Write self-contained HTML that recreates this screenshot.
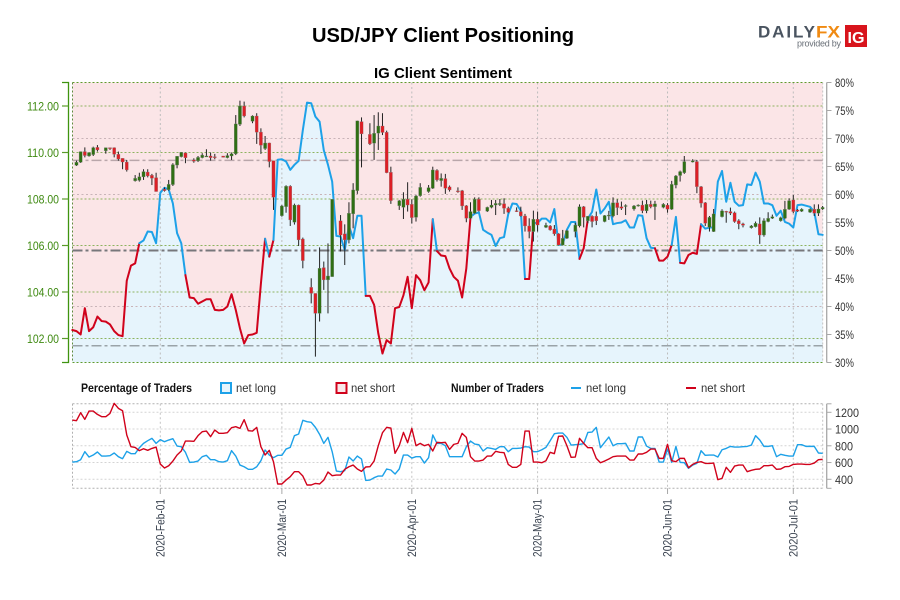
<!DOCTYPE html>
<html lang="en">
<head>
<meta charset="utf-8">
<title>USD/JPY Client Positioning</title>
<style>
html,body{margin:0;padding:0;background:#fff;width:900px;height:600px;overflow:hidden}
svg{display:block}
text{font-family:"Liberation Sans",sans-serif}
</style>
</head>
<body>
<svg id="chart" xmlns="http://www.w3.org/2000/svg" width="900" height="600" viewBox="0 0 900 600">
  <rect x="0" y="0" width="900" height="600" fill="#ffffff"/>
  <text x="443" y="42" text-anchor="middle" font-size="20" font-weight="bold" fill="#000" textLength="262" lengthAdjust="spacingAndGlyphs">USD/JPY Client Positioning</text>
  <text x="443" y="78" text-anchor="middle" font-size="15" font-weight="bold" fill="#000" textLength="138" lengthAdjust="spacingAndGlyphs">IG Client Sentiment</text>

  <g>
    <text x="758" y="37.5" font-size="17" font-weight="bold" fill="#4a5460" textLength="57" lengthAdjust="spacing">DAILY</text>
    <text x="816" y="37.5" font-size="17" font-weight="bold" fill="#f08a12" textLength="24" lengthAdjust="spacingAndGlyphs">FX</text>
    <text x="797" y="46.5" font-size="9" fill="#6a7078" textLength="44" lengthAdjust="spacing">provided by</text>
    <rect x="845" y="25" width="22" height="22" fill="#d8141c"/>
    <text x="856" y="43" text-anchor="middle" font-size="16" font-weight="bold" fill="#fff" textLength="17" lengthAdjust="spacingAndGlyphs">IG</text>
  </g>

  <g id="main-panel"></g>
  <g id="lower-panel"></g>

  <g font-size="12">
    <text x="81" y="392" font-weight="bold" fill="#111" textLength="111" lengthAdjust="spacingAndGlyphs">Percentage of Traders</text>
    <rect x="221" y="383" width="10" height="10" fill="#e6f4fc" stroke="#1da1e8" stroke-width="2"/>
    <text x="236" y="392" fill="#333" textLength="40" lengthAdjust="spacingAndGlyphs">net long</text>
    <rect x="336.5" y="383" width="10" height="10" fill="#f9e8ea" stroke="#d0021b" stroke-width="2"/>
    <text x="351" y="392" fill="#333" textLength="44" lengthAdjust="spacingAndGlyphs">net short</text>
    <text x="451" y="392" font-weight="bold" fill="#111" textLength="93" lengthAdjust="spacingAndGlyphs">Number of Traders</text>
    <line x1="571" y1="388" x2="581" y2="388" stroke="#1da1e8" stroke-width="2"/>
    <text x="586" y="392" fill="#333" textLength="40" lengthAdjust="spacingAndGlyphs">net long</text>
    <line x1="686" y1="388" x2="696" y2="388" stroke="#d0021b" stroke-width="2"/>
    <text x="701" y="392" fill="#333" textLength="44" lengthAdjust="spacingAndGlyphs">net short</text>
  </g>
</svg>

<script>
var priceTicks = [112, 110, 108, 106, 104, 102];
var priceTickLabels = ["112.00", "110.00", "108.00", "106.00", "104.00", "102.00"];
var percentTicks = [80, 75, 70, 65, 60, 55, 50, 45, 40, 35, 30];
var percentGrid = [70, 60, 40];
var referenceLevels = [66.1, 50, 33];
var traderTicks = [1200, 1000, 800, 600, 400];
var monthOffsets = [0, 29, 60, 90, 121, 151];
var monthLabels = ["2020-Feb-01", "2020-Mar-01", "2020-Apr-01", "2020-May-01", "2020-Jun-01", "2020-Jul-01"];

var candleDays = [-20,-19,-18,-17,-16,-15,-13,-12,-11,-10,-9,-8,-6,-5,-4,-3,-2,-1,1,2,3,4,5,6,8,9,10,11,12,13,15,16,17,18,19,20,22,23,24,25,26,27,29,30,31,32,33,34,36,37,38,39,40,41,43,44,45,46,47,48,50,51,52,53,54,55,57,58,59,60,61,62,64,65,66,67,68,69,71,72,73,74,75,76,78,79,80,81,82,83,85,86,87,88,89,90,92,93,94,95,96,97,99,100,101,102,103,104,106,107,108,109,110,111,113,114,115,116,117,118,120,121,122,123,124,125,127,128,129,130,131,132,134,135,136,137,138,139,141,142,143,144,145,146,148,149,150,151,152,153,155,156,157,158];
var candleOpen = [109.45,109.58,110.04,109.85,109.91,110.22,110.07,110.21,110.21,109.92,109.75,109.59,108.78,108.80,108.95,109.16,109.02,108.92,108.42,108.40,108.62,109.46,109.82,109.98,109.68,109.64,109.78,109.82,109.85,109.82,109.85,109.78,109.85,109.94,111.21,112.00,111.34,111.57,110.88,110.17,110.41,109.65,107.28,107.67,108.55,107.00,107.74,106.28,104.20,103.94,103.08,105.05,104.52,104.66,107.06,106.50,106.24,107.36,108.36,111.33,110.78,110.40,110.83,111.14,110.87,109.15,107.71,107.64,107.99,107.77,107.21,108.14,108.32,108.46,109.23,108.79,108.88,108.52,108.35,108.36,107.71,107.17,107.39,107.99,107.48,107.64,107.74,107.76,107.80,107.60,107.50,107.46,107.27,106.84,106.60,107.13,106.78,106.84,106.71,106.51,106.02,106.31,106.60,106.84,107.67,107.06,107.26,107.26,107.03,107.27,107.27,107.84,107.67,107.69,107.57,107.70,107.74,107.49,107.77,107.67,107.64,107.74,107.56,108.60,109.01,109.13,109.59,109.61,108.53,107.84,106.78,106.60,107.24,107.47,107.46,107.41,107.07,106.93,106.76,106.81,106.93,106.45,107.03,107.17,107.06,107.17,107.56,107.96,107.53,107.47,107.43,107.56,107.39,107.57];
var candleHigh = [109.65,110.04,110.22,110.00,110.25,110.32,110.21,110.21,110.22,110.04,109.75,109.68,109.03,109.13,109.28,109.28,109.08,109.13,108.50,108.82,109.54,109.85,110.02,110.00,109.75,109.85,109.97,110.14,110.00,109.94,109.85,109.97,110.00,111.61,112.23,112.19,111.60,111.69,111.04,110.71,110.42,109.65,107.74,108.59,108.59,107.80,107.76,106.34,104.59,103.94,105.92,105.31,106.09,107.99,107.31,106.91,107.86,108.68,111.37,111.51,111.26,111.61,111.73,111.69,110.94,109.39,107.96,108.29,108.72,107.99,108.17,108.68,108.60,109.39,109.28,109.10,109.08,108.58,108.50,108.39,107.74,107.86,108.07,108.07,107.67,107.96,107.96,108.00,108.03,107.67,107.64,107.67,107.36,107.17,107.50,107.46,106.98,106.88,106.88,106.53,106.67,106.67,106.98,107.77,107.70,107.27,107.30,107.46,107.31,107.49,108.07,107.99,107.89,107.77,107.74,107.77,107.93,107.96,107.93,107.92,107.82,107.82,108.78,109.03,109.22,109.85,109.71,109.68,108.56,107.87,107.27,107.57,107.56,107.49,107.63,107.46,107.13,106.98,106.88,107.03,107.21,107.17,107.43,107.33,107.24,107.92,108.03,108.17,107.57,107.60,107.59,107.77,107.77,107.70];
var candleLow = [109.42,109.55,109.79,109.82,109.85,110.04,109.95,110.11,109.79,109.65,109.28,109.18,108.75,108.75,108.82,108.93,108.60,108.32,108.32,108.36,108.56,109.32,109.79,109.54,109.56,109.59,109.75,109.82,109.65,109.71,109.79,109.75,109.68,109.89,111.14,111.51,111.26,110.37,109.94,110.11,109.36,107.53,107.24,107.41,106.84,106.90,105.98,105.02,103.51,101.22,102.73,104.09,103.08,104.66,105.74,105.16,106.09,106.74,108.22,109.36,110.32,109.68,110.11,110.75,109.11,107.79,107.53,107.14,107.46,106.95,107.03,108.10,108.27,108.43,108.75,108.53,108.22,108.32,108.27,107.53,107.00,107.14,107.36,107.46,107.44,107.60,107.31,107.70,107.36,107.39,107.44,107.24,106.60,106.31,106.17,106.60,106.75,106.64,106.42,106.00,106.00,106.28,106.35,106.78,106.78,106.96,106.78,106.88,107.00,107.10,107.21,107.31,107.53,107.31,107.50,107.67,107.39,107.39,107.60,107.10,107.60,107.41,107.53,108.46,108.75,109.08,109.57,108.25,107.63,106.84,106.60,106.58,107.21,106.98,107.31,106.98,106.70,106.78,106.73,106.78,106.07,106.38,107.00,107.14,107.03,107.13,107.53,107.39,107.44,107.44,107.40,107.27,107.27,107.53];
var candleClose = [109.58,110.04,109.87,110.00,110.21,110.11,110.21,110.17,109.92,109.72,109.59,109.25,108.89,108.96,109.18,108.99,108.89,108.32,108.36,108.63,109.48,109.84,110.01,109.77,109.62,109.79,109.89,109.85,109.78,109.79,109.79,109.87,109.95,111.23,112.00,111.57,111.57,110.87,110.31,110.41,109.61,108.07,107.70,108.55,107.10,107.74,106.24,105.35,103.94,103.08,105.02,104.52,104.69,107.99,106.45,106.24,107.39,108.39,111.36,110.80,110.37,110.83,111.14,110.86,109.13,107.93,107.93,107.99,107.74,107.20,108.13,108.50,108.49,109.25,108.82,108.89,108.46,108.39,108.32,107.70,107.17,107.46,107.99,107.50,107.64,107.74,107.81,107.81,107.60,107.43,107.47,107.27,106.84,106.60,107.13,106.88,106.87,106.67,106.50,106.02,106.31,106.64,106.88,107.67,107.21,107.26,107.03,107.06,107.29,107.31,107.84,107.63,107.60,107.72,107.70,107.74,107.50,107.77,107.67,107.79,107.77,107.56,108.63,108.99,109.18,109.61,109.65,108.53,107.82,106.96,107.21,107.36,107.49,107.44,107.39,107.03,106.93,106.87,106.84,106.96,106.45,107.07,107.17,107.24,107.20,107.56,107.93,107.46,107.47,107.56,107.56,107.39,107.57,107.64];

var seriesStartDay = -21;
var sentimentPercent = [35.8,35.6,35.0,39.7,35.6,36.3,38.2,37.4,37.3,36.8,35.6,34.9,34.7,44.6,47.3,47.7,51.3,51.8,53.4,53.3,51.3,60.3,61.2,60.9,58.4,53.1,51.3,45.6,41.6,41.5,40.5,40.9,41.3,41.3,39.4,39.3,39.4,40.0,42.2,39.4,36.1,33.4,34.9,35.0,35.3,44.1,52.1,48.9,51.9,66.2,66.3,65.9,64.4,65.3,66.0,71.5,76.4,76.3,73.9,73.0,67.9,65.3,62.3,52.6,52.5,50.1,54.4,52.2,56.2,56.2,41.9,41.9,40.3,35.2,31.6,34.0,33.4,39.7,39.9,42.0,45.3,39.7,45.6,44.7,42.9,44.3,55.6,49.9,49.1,49.0,46.8,45.3,44.6,41.6,46.8,56.0,56.6,56.8,53.7,53.2,52.8,50.8,52.2,52.4,56.5,58.4,58.3,57.1,44.9,44.9,54.9,54.9,55.7,55.7,55.0,57.4,51.0,51.1,53.7,55.1,55.1,48.5,50.4,55.7,56.9,60.9,56.6,57.5,58.7,54.7,54.9,55.0,55.4,54.1,54.1,56.3,56.2,52.2,50.5,50.4,48.2,48.2,48.9,51.0,56.0,47.8,47.7,49.2,49.6,49.4,54.7,53.9,54.1,54.1,62.3,64.2,58.7,62.1,58.7,58.0,58.1,61.8,61.7,63.9,62.3,58.4,58.4,58.1,56.2,57.1,55.1,54.8,54.1,58.1,58.2,58.0,57.8,56.9,52.9,52.8];
var netShortRanges = [[-21,-5],[6,25],[26,27],[49,65],[66,74],[87,89],[100,102],[118,122],[124,129]];

var tradersLong = [606,610,634,730,666,690,726,678,678,682,714,670,646,734,706,706,777,829,861,889,829,873,849,869,885,797,789,722,602,606,618,670,686,634,634,610,606,622,742,678,570,550,519,519,550,622,750,690,658,686,686,761,781,921,941,1104,1088,1080,1020,937,829,901,730,499,491,503,666,618,678,642,387,391,419,439,439,523,511,463,523,690,690,654,670,670,594,658,929,829,829,801,670,670,670,670,789,857,821,813,738,777,769,757,789,789,730,769,769,773,789,785,730,730,753,781,861,944,952,952,901,809,813,817,825,960,964,1020,777,841,905,801,825,825,829,738,738,905,905,797,769,769,606,606,761,602,793,602,598,531,570,590,742,686,690,690,666,753,769,793,785,785,789,793,809,921,869,793,793,801,670,698,686,678,678,813,813,793,793,793,714,710];
var tradersShort = [1108,1100,1195,1116,1215,1215,1175,1148,1148,1187,1307,1247,1219,929,789,781,742,765,746,769,785,582,535,562,618,690,738,857,857,853,921,968,976,909,988,949,949,956,1016,1028,1008,1112,980,976,1020,789,690,746,610,344,344,391,431,491,491,439,332,332,351,344,391,487,443,451,451,519,550,570,523,495,547,550,618,801,956,1020,1012,710,801,960,837,1008,801,829,801,817,738,841,837,841,757,817,829,949,901,670,618,618,630,678,678,734,722,718,578,543,543,578,976,976,606,606,598,622,722,706,913,917,801,662,666,889,829,777,777,650,598,618,642,670,678,678,678,630,630,702,702,722,761,761,650,650,817,622,610,650,650,539,578,602,610,590,590,594,395,411,543,483,558,570,570,491,507,519,523,562,562,570,519,523,550,554,578,582,582,578,578,594,634,638];

var NS = "http://www.w3.org/2000/svg";
var mainPanel = document.getElementById("main-panel");
var lowerPanel = document.getElementById("lower-panel");

var plotLeft = 72.5, plotRight = 822.7, plotTop = 82.5, plotBottom = 362.5;
var lowerTop = 403.8, lowerBottom = 488.3;

function xDay(d) { return 160.3 + 4.192 * d; }
function yPrice(p) { return 106 + (112 - p) * 23.25; }
function yPercent(p) { return 82.5 + (80 - p) * 5.6; }
function yTraders(v) { return 479.3 - (v - 400) * 0.08375; }

function add(parent, tag, attrs, txt) {
  var el = document.createElementNS(NS, tag);
  for (var k in attrs) { el.setAttribute(k, attrs[k]); }
  if (txt !== undefined) { el.textContent = txt; }
  parent.appendChild(el);
  return el;
}
function isRed(a, b) {
  return netShortRanges.some(function (r) { return a >= r[0] && b <= r[1]; });
}

/* main panel backgrounds */
var bgPink = add(mainPanel, "rect", {x: plotLeft, y: plotTop, width: plotRight - plotLeft, height: plotBottom - plotTop, fill: "#fbe5e7"});



var fillPts = [xDay(seriesStartDay) + "," + plotBottom];
sentimentPercent.forEach(function (v, i) {
  fillPts.push(xDay(seriesStartDay + i) + "," + yPercent(v));
});
fillPts.push(xDay(seriesStartDay + sentimentPercent.length - 1) + "," + plotBottom);
var fillLong = add(mainPanel, "polygon", {points: fillPts.join(" "), fill: "#e6f4fc"});



/* month grid */
monthOffsets.forEach(function (d) {
  var vg = add(mainPanel, "line", {x1: xDay(d), x2: xDay(d), y1: plotTop, y2: plotBottom, stroke: "#bdbdbd", "stroke-width": 1, "stroke-dasharray": "2,2.5"});
  
  
});

/* percent grid */
percentGrid.forEach(function (p) {
  var pg = add(mainPanel, "line", {x1: plotLeft, x2: plotRight, y1: yPercent(p), y2: yPercent(p), stroke: "#c9b4b8", "stroke-width": 1, "stroke-dasharray": "2,2.5"});
  
  
});

/* price grid */
priceTicks.forEach(function (p) {
  var g = add(mainPanel, "line", {x1: plotLeft, x2: plotRight, y1: yPrice(p), y2: yPrice(p), stroke: "#8db35f", "stroke-width": 1, "stroke-dasharray": "2,2"});
  
  
});

/* plot frame */
var frameTop = add(mainPanel, "line", {x1: plotLeft, x2: plotRight, y1: plotTop, y2: plotTop, stroke: "#5f9a2c", "stroke-width": 1, "stroke-dasharray": "2,2"});


var frameBottom = add(mainPanel, "line", {x1: plotLeft, x2: plotRight, y1: plotBottom, y2: plotBottom, stroke: "#5f9a2c", "stroke-width": 1, "stroke-dasharray": "2,2"});


var frameLeft = add(mainPanel, "line", {x1: plotLeft, x2: plotLeft, y1: plotTop, y2: plotBottom, stroke: "#5f8a3c", "stroke-width": 1, "stroke-dasharray": "2,2"});


var frameRight = add(mainPanel, "line", {x1: plotRight, x2: plotRight, y1: plotTop, y2: plotBottom, stroke: "#c4c4c4", "stroke-width": 1, "stroke-dasharray": "2,2"});



/* reference levels */
var refColors = ["#b9a6aa", "#77777b", "#9aa3a8"];
referenceLevels.forEach(function (lvl, i) {
  var rl = add(mainPanel, "line", {x1: plotLeft, x2: plotRight, y1: yPercent(lvl), y2: yPercent(lvl), stroke: refColors[i], "stroke-width": i === 1 ? 2 : 1.5, "stroke-dasharray": "10,3,3,3"});
  
  
});

/* sentiment line */
var segStart = 0;
for (var s = 1; s <= sentimentPercent.length - 1; s++) {
  var curRed = isRed(seriesStartDay + s - 1, seriesStartDay + s);
  var nextRed = s < sentimentPercent.length - 1 ? isRed(seriesStartDay + s, seriesStartDay + s + 1) : !curRed;
  if (curRed !== nextRed) {
    var pts = [];
    for (var j = segStart; j <= s; j++) {
      pts.push(xDay(seriesStartDay + j) + "," + yPercent(sentimentPercent[j]));
    }
    var seg = add(mainPanel, "polyline", {points: pts.join(" "), fill: "none", stroke: curRed ? "#d0021b" : "#1da1e8", "stroke-width": 2, "stroke-linejoin": "round", "stroke-linecap": "round"});
    
    
    segStart = s;
  }
}

/* candles */
candleDays.forEach(function (d, i) {
  var o = candleOpen[i], c = candleClose[i];
  var up = c >= o;
  var wick = add(mainPanel, "line", {x1: xDay(d), x2: xDay(d), y1: yPrice(candleHigh[i]), y2: yPrice(candleLow[i]), stroke: "#222", "stroke-width": 1});
  
  
  var top = yPrice(Math.max(o, c)), bot = yPrice(Math.min(o, c));
  var body = add(mainPanel, "rect", {x: xDay(d) - 1.6, y: top, width: 3.2, height: Math.max(bot - top, 1), fill: up ? "#2f6f14" : "#dc1f26", stroke: "#8a8a8a", "stroke-width": 0.3});
  
  
});

/* left axis */
var leftAxis = add(mainPanel, "polyline", {points: "62," + plotTop + " 68.5," + plotTop + " 68.5," + plotBottom + " 62," + plotBottom, fill: "none", stroke: "#3f9410", "stroke-width": 1.3});


priceTicks.forEach(function (p, i) {
  var t = add(mainPanel, "line", {x1: 62, x2: 68.5, y1: yPrice(p), y2: yPrice(p), stroke: "#5a9c2a", "stroke-width": 1.2});
  
  
  var l = add(mainPanel, "text", {x: 27, y: yPrice(p) + 4.5, "font-size": 12, fill: "#3f8a12", textLength: 32, lengthAdjust: "spacingAndGlyphs"}, priceTickLabels[i]);
  
  
});

/* right axis */
var rightAxis = add(mainPanel, "line", {x1: 826.7, x2: 826.7, y1: plotTop, y2: plotBottom, stroke: "#a8a8a8", "stroke-width": 1.3});


percentTicks.forEach(function (p) {
  var t = add(mainPanel, "line", {x1: 826.7, x2: 831.5, y1: yPercent(p), y2: yPercent(p), stroke: "#a8a8a8", "stroke-width": 1});
  
  
  var l = add(mainPanel, "text", {x: 835, y: yPercent(p) + 4.5, "font-size": 12, fill: "#333", textLength: 19, lengthAdjust: "spacingAndGlyphs"}, p + "%");
  
  
});

/* lower panel */
traderTicks.forEach(function (v) {
  var g = add(lowerPanel, "line", {x1: plotLeft, x2: plotRight, y1: yTraders(v), y2: yTraders(v), stroke: "#d4d4d4", "stroke-width": 1, "stroke-dasharray": "2,2"});
  
  
  var t = add(lowerPanel, "line", {x1: 826.7, x2: 831.5, y1: yTraders(v), y2: yTraders(v), stroke: "#a8a8a8", "stroke-width": 1});
  
  
  var l = add(lowerPanel, "text", {x: 835, y: yTraders(v) + 4.5, "font-size": 12, fill: "#333", textLength: v >= 1000 ? 24 : 18, lengthAdjust: "spacingAndGlyphs"}, String(v));
  
  
});
var lowTop = add(lowerPanel, "line", {x1: plotLeft, x2: plotRight, y1: lowerTop, y2: lowerTop, stroke: "#b0b0b0", "stroke-width": 1, "stroke-dasharray": "2,2"});


var lowBottom = add(lowerPanel, "line", {x1: plotLeft, x2: plotRight, y1: lowerBottom, y2: lowerBottom, stroke: "#b0b0b0", "stroke-width": 1, "stroke-dasharray": "2,2"});


var lowLeft = add(lowerPanel, "line", {x1: plotLeft, x2: plotLeft, y1: lowerTop, y2: lowerBottom, stroke: "#b0b0b0", "stroke-width": 1, "stroke-dasharray": "2,2"});


var lowRight = add(lowerPanel, "line", {x1: plotRight, x2: plotRight, y1: lowerTop, y2: lowerBottom, stroke: "#c4c4c4", "stroke-width": 1, "stroke-dasharray": "2,2"});


var lowAxis = add(lowerPanel, "line", {x1: 826.7, x2: 826.7, y1: lowerTop, y2: lowerBottom, stroke: "#a8a8a8", "stroke-width": 1.3});


var lowAxisCapTop = add(lowerPanel, "line", {x1: 826.7, x2: 831.5, y1: lowerTop, y2: lowerTop, stroke: "#a8a8a8", "stroke-width": 1});


var lowAxisCapBottom = add(lowerPanel, "line", {x1: 826.7, x2: 831.5, y1: lowerBottom, y2: lowerBottom, stroke: "#a8a8a8", "stroke-width": 1});



monthOffsets.forEach(function (d, i) {
  var vg = add(lowerPanel, "line", {x1: xDay(d), x2: xDay(d), y1: lowerTop, y2: lowerBottom, stroke: "#c4c4c4", "stroke-width": 1, "stroke-dasharray": "2,2.5"});
  
  
  var t = add(lowerPanel, "line", {x1: xDay(d), x2: xDay(d), y1: lowerBottom, y2: 494, stroke: "#a8a8a8", "stroke-width": 1});
  
  
  var l = add(lowerPanel, "text", {transform: "translate(" + (xDay(d) + 4) + ",557) rotate(-90)", "font-size": 12, fill: "#3a4350", textLength: 58, lengthAdjust: "spacingAndGlyphs"}, monthLabels[i]);
  
  
});

function tradersPoints(arr) {
  return arr.map(function (v, i) {
    return xDay(seriesStartDay + i) + "," + yTraders(v);
  }).join(" ");
}
var longLine = add(lowerPanel, "polyline", {points: tradersPoints(tradersLong), fill: "none", stroke: "#1da1e8", "stroke-width": 1.4, "stroke-linejoin": "round"});


var shortLine = add(lowerPanel, "polyline", {points: tradersPoints(tradersShort), fill: "none", stroke: "#d0021b", "stroke-width": 1.4, "stroke-linejoin": "round"});


</script>
</body>
</html>
